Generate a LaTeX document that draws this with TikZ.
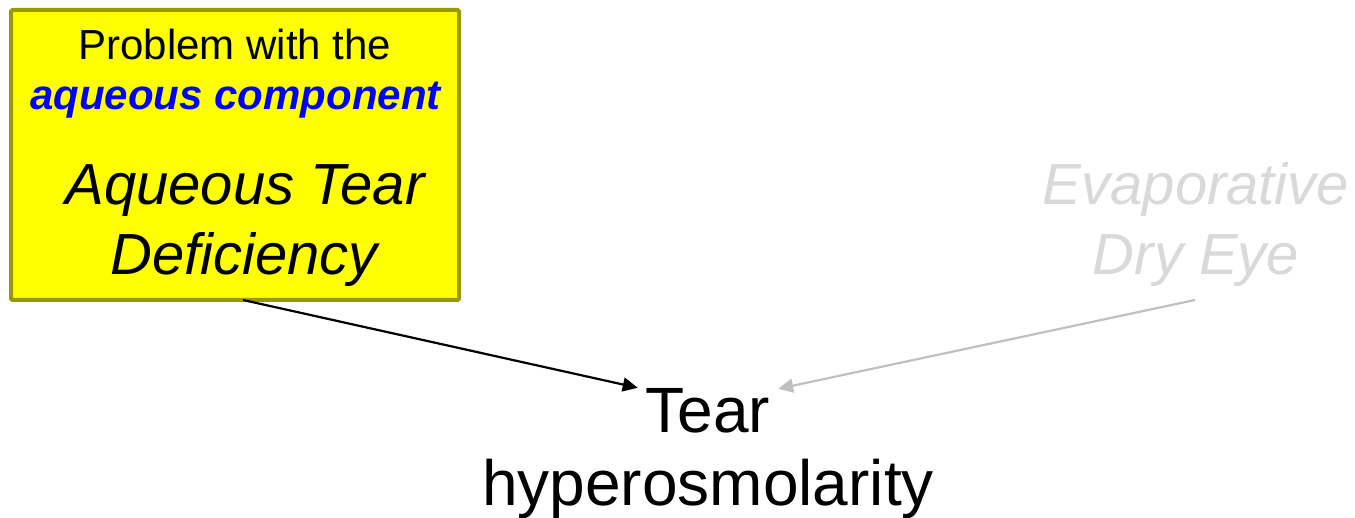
\documentclass[tikz,border=0pt]{standalone}
\usepackage{fontspec}
\setmainfont{Liberation Sans}
\usetikzlibrary{arrows.meta,calc}
\definecolor{boxfill}{RGB}{255,255,0}
\definecolor{boxline}{RGB}{153,153,0}
\definecolor{fadetext}{RGB}{217,217,217}
\definecolor{fadearrow}{RGB}{192,192,192}
\definecolor{accent}{RGB}{0,0,255}
\tikzset{
  lbl/.style={anchor=base, inner sep=0pt, outer sep=0pt},
  smalltxt/.style={lbl, font=\fontsize{42}{46}\selectfont},
  bigital/.style={lbl, font=\fontsize{58}{64}\selectfont\itshape},
  maintxt/.style={lbl, font=\fontsize{64}{70}\selectfont},
  conn/.style={line width=2.2pt, -{Triangle[length=15pt,width=14pt]}},
}
\begin{document}
\begin{tikzpicture}[x=1pt,y=-1pt]
\useasboundingbox (0,0) rectangle (1355,518);
\node[draw=boxline, fill=boxfill, line width=4pt, rounded corners=1.5pt,
      minimum width=448pt, minimum height=290pt, inner sep=0pt] (box) at (235,155) {};
\node[smalltxt] (l1) at (235,60) {Problem with the};
\node[smalltxt, text=accent, font=\fontsize{42}{46}\selectfont\bfseries\itshape] (l2) at (235.5,110) {aqueous component};
\node[bigital] (l3) at (245,205) {Aqueous Tear};
\node[bigital] (l4) at (244,275) {Deficiency};
\node[bigital, text=fadetext] (e1) at (1196,205) {Evaporative};
\node[bigital, text=fadetext] (e2) at (1196,275) {Dry Eye};
\node[maintxt] (t1) at (708,432) {Tear};
\node[maintxt] (t2) at (708,505) {hyperosmolarity};
\coordinate (a0) at ($(box.south)+(8,-2)$);
\coordinate (b0) at ($(e2.base)+(-1,25)$);
\draw[conn] (a0) -- ($(t1.west)+(-8,-22.5)$);
\draw[conn, draw=fadearrow, fill=fadearrow] (b0) -- ($(t1.east)+(8,-21.5)$);
\end{tikzpicture}
\end{document}
